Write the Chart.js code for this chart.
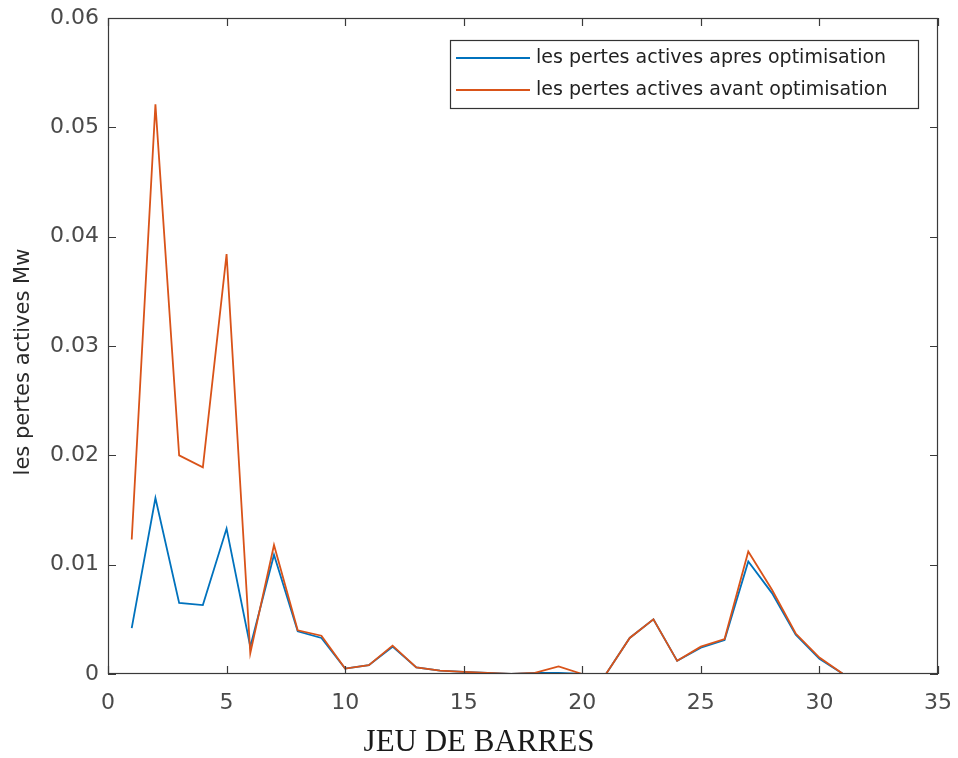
<!DOCTYPE html>
<html>
<head>
<meta charset="utf-8">
<script src="https://cdn.jsdelivr.net/npm/chart.js@4.4.1/dist/chart.umd.min.js"></script>
<style>
  html, body { margin: 0; padding: 0; background: #fff; }
  #wrap { width: 958px; height: 758px; }
</style>
</head>
<body>
<div id="wrap"><canvas id="pertes-chart" width="958" height="758"></canvas></div>
<script>
// jeu de barres 1..32
const barres = [1,2,3,4,5,6,7,8,9,10,11,12,13,14,15,16,17,18,19,20,21,22,23,24,25,26,27,28,29,30,31,32];

const pertesApres = [0.0042, 0.0161, 0.0065, 0.0063, 0.0133, 0.0025, 0.0109, 0.0039, 0.0033, 0.0005,
                     0.0008, 0.0025, 0.0006, 0.0003, 0.0002, 0.0001, 0.0000, 0.0001, 0.0001, 0.0000,
                     0.0000, 0.0033, 0.0050, 0.0012, 0.0024, 0.0031, 0.0103, 0.0074, 0.0036, 0.0014,
                     0.0000, 0.0000];

const pertesAvant = [0.0123, 0.0521, 0.0200, 0.0189, 0.0384, 0.0019, 0.0118, 0.0040, 0.0035, 0.0005,
                     0.0008, 0.0026, 0.0006, 0.0003, 0.0002, 0.0001, 0.0000, 0.0001, 0.0007, 0.0000,
                     0.0000, 0.0033, 0.0050, 0.0012, 0.0025, 0.0032, 0.0112, 0.0077, 0.0037, 0.0015,
                     0.0000, 0.0000];

const xTicks = [0, 5, 10, 15, 20, 25, 30, 35];
const yTicks = [0, 0.01, 0.02, 0.03, 0.04, 0.05, 0.06];

const labelApres = 'les pertes actives apres optimisation';
const labelAvant = 'les pertes actives avant optimisation';
const titreX = 'JEU DE BARRES';
const titreY = 'les pertes actives Mw';

const axisColor = '#3a3a3a';
const textColor = '#4a4a4a';
const sansFont = '"DejaVu Sans", Verdana, sans-serif';

// cadre, ticks vers l'interieur, titres et legende (style matlab)
const boxPlugin = {
    id: 'boxPlugin',
    afterDraw(chart) {
        const ctx = chart.ctx;
        const a = chart.chartArea;
        const xs = chart.scales.x, ys = chart.scales.y;
        ctx.save();
        ctx.strokeStyle = axisColor;
        ctx.lineWidth = 1.2;
        ctx.strokeRect(a.left + 0.5, a.top + 0.5, a.right - a.left - 1, a.bottom - a.top - 1);
        ctx.beginPath();
        xTicks.forEach(v => {
            const px = Math.round(xs.getPixelForValue(v)) + 0.5;
            ctx.moveTo(px, a.bottom); ctx.lineTo(px, a.bottom - 8);
            ctx.moveTo(px, a.top); ctx.lineTo(px, a.top + 8);
        });
        yTicks.forEach(v => {
            const py = Math.round(ys.getPixelForValue(v)) + 0.5;
            ctx.moveTo(a.left, py); ctx.lineTo(a.left + 8, py);
            ctx.moveTo(a.right, py); ctx.lineTo(a.right - 8, py);
        });
        ctx.stroke();

        // titres des axes
        ctx.fillStyle = '#1a1a1a';
        ctx.textAlign = 'center';
        ctx.textBaseline = 'middle';
        ctx.font = '31px "Liberation Serif", "Times New Roman", serif';
        ctx.fillText(titreX, 479, 743);
        ctx.save();
        ctx.translate(24, 362);
        ctx.rotate(-Math.PI / 2);
        ctx.font = '21px ' + sansFont;
        ctx.fillStyle = '#2a2a2a';
        ctx.fillText(titreY, 0, 0);
        ctx.restore();

        // legende
        const lx = 450, ly = 40, lw = 468, lh = 68;
        ctx.fillStyle = '#fff';
        ctx.fillRect(lx, ly, lw, lh);
        ctx.strokeStyle = '#333';
        ctx.lineWidth = 1.2;
        ctx.strokeRect(lx + 0.5, ly + 0.5, lw, lh);
        ctx.font = '19px ' + sansFont;
        ctx.textAlign = 'left';
        ctx.textBaseline = 'middle';
        chart.data.datasets.forEach((ds, i) => {
            const yy = ly + 18 + i * 32;
            ctx.strokeStyle = ds.borderColor;
            ctx.lineWidth = 1.8;
            ctx.beginPath();
            ctx.moveTo(lx + 6, yy); ctx.lineTo(lx + 80, yy);
            ctx.stroke();
            ctx.fillStyle = '#222';
            ctx.fillText(ds.label, lx + 86, yy);
        });
        ctx.restore();
    }
};

const ctx = document.querySelector('#pertes-chart').getContext('2d');

let pertesChart = new Chart(ctx, {
    type: 'line',
    data: {
        datasets: [
            {
                label: labelApres,
                data: barres.map((b, i) => ({x: b, y: pertesApres[i]})),
                borderColor: 'rgb(0, 114, 189)',
                borderWidth: 1.8,
                pointRadius: 0,
                tension: 0,
                order: 2
            },
            {
                label: labelAvant,
                data: barres.map((b, i) => ({x: b, y: pertesAvant[i]})),
                borderColor: 'rgb(217, 83, 25)',
                borderWidth: 1.8,
                pointRadius: 0,
                tension: 0,
                order: 1
            }
        ]
    },
    options: {
        responsive: false,
        animation: { duration: 0 },
        layout: { padding: { top: 18, right: 20, left: 0, bottom: 0 } },
        plugins: {
            legend: { display: false },
            title: { display: false },
            tooltip: { enabled: false }
        },
        scales: {
            x: {
                type: 'linear',
                min: 0,
                max: 35,
                afterFit(scale) {
                    scale.height = 84;
                    scale.paddingLeft = 0;
                    scale.paddingRight = 0;
                },
                afterBuildTicks(scale) { scale.ticks = xTicks.map(v => ({value: v})); },
                grid: { display: false, drawTicks: false },
                border: { display: false },
                ticks: {
                    color: textColor,
                    padding: 16,
                    font: { family: sansFont, size: 22 }
                }
            },
            y: {
                min: 0,
                max: 0.06,
                afterFit(scale) {
                    scale.width = 108;
                    scale.paddingTop = 0;
                    scale.paddingBottom = 0;
                },
                afterBuildTicks(scale) { scale.ticks = yTicks.map(v => ({value: v})); },
                grid: { display: false, drawTicks: false },
                border: { display: false },
                ticks: {
                    color: textColor,
                    padding: 9,
                    font: { family: sansFont, size: 22 },
                    callback: v => (v === 0 ? '0' : String(Math.round(v * 100) / 100))
                }
            }
        }
    },
    plugins: [boxPlugin]
});
</script>
</body>
</html>
